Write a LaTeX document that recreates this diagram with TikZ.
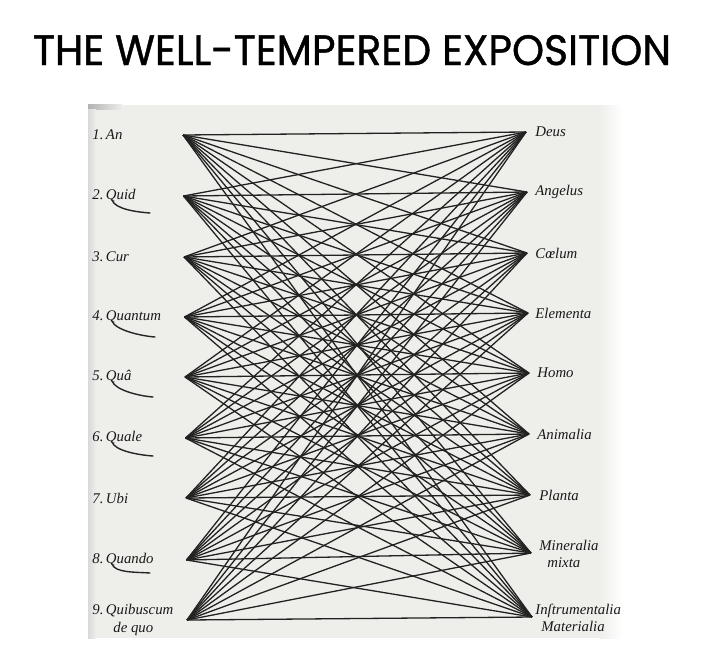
\documentclass[tikz,border=0pt]{standalone}
\usepackage{graphicx}
\usepackage{fontspec}
\setmainfont{Liberation Serif}
\newfontfamily\titlefont[FakeBold=1.0]{Poppins}
\usetikzlibrary{positioning}
\definecolor{inkcol}{RGB}{34,34,34}
\definecolor{pagecol}{RGB}{238,238,235}

\begin{document}
\begin{tikzpicture}[
  x=0.5pt, y=-0.5pt,
  font=\fontsize{7.4}{8.6}\selectfont\itshape,
  link/.style={inkcol, line width=0.65pt},
  swash/.style={black!85, line width=0.7pt, line cap=round},
  labL/.style={anchor=west, inner sep=0pt, align=left, text=black!90},
  labR/.style={anchor=west, inner sep=0pt, align=left, text=black!90},
]
\useasboundingbox (0,0) rectangle (704,664);

% --- Title ---
\node[font=\titlefont\upshape, anchor=base, inner sep=0pt] (title) at (352,65)
  {\resizebox{319pt}{15pt}{THE WELL-TEMPERED EXPOSITION}};

% --- Scanned page ---
\fill[pagecol] (88,105) rectangle (600,638);
\shade[left color=pagecol, right color=white] (600,105) rectangle (622,638);
\shade[left color=gray!60, right color=pagecol] (88,104) rectangle (122,109);
\shade[left color=gray!30, right color=pagecol] (88,109) rectangle (96,638);

% --- Question points (left) and subject points (right) ---
\foreach \n/\x/\y in {1/183/135, 2/183.5/196, 3/184/257, 4/184.5/317, 5/185/377,
                      6/185.5/438, 7/186/498, 8/186.5/560, 9/187/620}
  \coordinate (L\n) at (\x,\y);
\foreach \n/\x/\y in {1/526/132, 2/527/192, 3/527/253, 4/528/313, 5/529/373,
                      6/529/434, 7/530/495, 8/531/553, 9/532/617}
  \coordinate (R\n) at (\x,\y);

% --- Every question joined to every subject ---
\foreach \i in {1,...,9}
  \foreach \j in {1,...,9}
    \draw[link] (L\i) -- (R\j);

% --- Left labels ---
\node[labL] (ql1) at (92,135) {1.\,An};
\node[labL] (ql2) at (92,196) {2.\,Quid};
\node[labL] (ql3) at (92,257) {3.\,Cur};
\node[labL] (ql4) at (92,317) {4.\,Quantum};
\node[labL] (ql5) at (92,377) {5.\,Quâ};
\node[labL] (ql6) at (92,438) {6.\,Quale};
\node[labL] (ql7) at (92,498) {7.\,Ubi};
\node[labL] (ql8) at (92,560) {8.\,Quando};
\node[labL] (ql9) at (92,620) {9.\,Quibuscum\\\hspace{10.5pt}de quo};

% tails of the Q's
\foreach \n/\ex/\ey in {2/38/13, 4/43/16, 5/41/16, 6/41/14, 8/38/9}
  \draw[swash] ([shift={(20,4)}]ql\n.west) .. controls +(3,9) and +(-14,-1) .. +(\ex,\ey);

% --- Right labels ---
\node[labR] (qr1) at (535,132) {Deus};
\node[labR] (qr2) at (535,192) {Angelus};
\node[labR] (qr3) at (535,253) {Cœlum};
\node[labR] (qr4) at (535,313) {Elementa};
\node[labR] (qr5) at (537,373) {Homo};
\node[labR] (qr6) at (537,434) {Animalia};
\node[labR] (qr7) at (539,495) {Planta};
\node[labR] (qr8) at (539,554) {Mineralia\\\hspace{4pt}mixta};
\node[labR] (qr9) at (535,618) {Inſtrumentalia\\\hspace{3pt}Materialia};

\end{tikzpicture}
\end{document}
